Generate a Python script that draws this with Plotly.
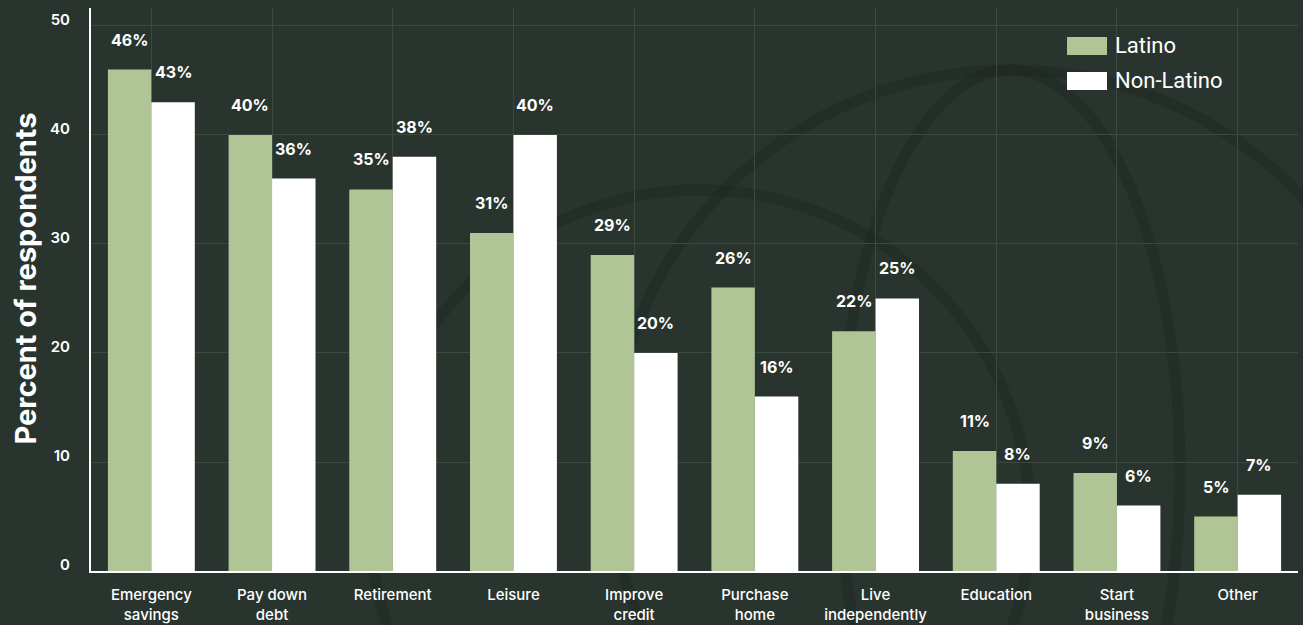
import plotly.graph_objects as go

# Reasons for saving, by respondent group (percent)
categories = [
    "Emergency<br>savings", "Pay down<br>debt", "Retirement", "Leisure",
    "Improve<br>credit", "Purchase<br>home", "Live<br>independently",
    "Education", "Start<br>business", "Other",
]
latino = [46, 40, 35, 31, 29, 26, 22, 11, 9, 5]
non_latino = [43, 36, 38, 40, 20, 16, 25, 8, 6, 7]
series_names = ["Latino", "Non-Latino"]
y_ticks = [0, 10, 20, 30, 40, 50]

BG = "#29342e"
GREEN = "#afc596"
WHITE = "#ffffff"
GRID = "#3c4a3d"
FONT = "Inter, Roboto, sans-serif"

W, H = 1303, 625
L, R, T, B = 91, 5, 8, 54
plot_w = W - L - R
plot_h = H - T - B


def px_to_paper_x(px):
    return (px - L) / plot_w


def px_to_paper_y(py):
    return (H - B - py) / plot_h


fig = go.Figure()
fig.add_trace(go.Bar(name=series_names[0], x=categories, y=latino,
                     marker=dict(color=GREEN, line=dict(width=0))))
fig.add_trace(go.Bar(name=series_names[1], x=categories, y=non_latino,
                     marker=dict(color=WHITE, line=dict(width=0))))

bargap = 0.28
bar_px = plot_w / len(categories) * (1 - bargap) / 2

annotations = []
for vals, shift in ((latino, -bar_px / 2), (non_latino, bar_px / 2)):
    for cat, v in zip(categories, vals):
        annotations.append(dict(
            x=cat, y=v, xref="x", yref="y", text=f"{v}%", showarrow=False,
            xshift=shift, yshift=30, yanchor="middle", xanchor="center",
            font=dict(family=FONT, size=16, color=WHITE, weight="bold"),
        ))

# Y axis title
annotations.append(dict(
    x=0, y=0.5, xref="paper", yref="paper", text="Percent of respondents",
    textangle=-90, showarrow=False, xanchor="center", yanchor="middle",
    xshift=-66, yshift=11,
    font=dict(family=FONT, size=29, color=WHITE, weight="bold"),
))

# Legend drawn as swatches with labels
shapes = []
legend_rows = [(series_names[0], GREEN, 37, 55), (series_names[1], WHITE, 72, 90)]
for name, color, y0, y1 in legend_rows:
    shapes.append(dict(type="rect", xref="paper", yref="paper",
                       x0=px_to_paper_x(1067), x1=px_to_paper_x(1107),
                       y0=px_to_paper_y(y1), y1=px_to_paper_y(y0),
                       fillcolor=color, line=dict(width=0), layer="above"))
    annotations.append(dict(
        x=px_to_paper_x(1113), y=px_to_paper_y((y0 + y1) / 2),
        xref="paper", yref="paper", text=name, showarrow=False,
        xanchor="left", yanchor="middle",
        font=dict(family="Roboto, sans-serif", size=22, color=WHITE),
    ))

# Faint globe watermark behind the chart
mark = "rgba(12,20,15,0.16)"
for cx, cy, rx, ry in [(1010, 470, 400, 400), (1010, 470, 170, 400),
                       (700, 520, 330, 330)]:
    shapes.append(dict(type="circle", xref="paper", yref="paper",
                       x0=px_to_paper_x(cx - rx), x1=px_to_paper_x(cx + rx),
                       y0=px_to_paper_y(cy + ry), y1=px_to_paper_y(cy - ry),
                       line=dict(color=mark, width=11), layer="below"))

fig.update_layout(
    width=W, height=H,
    margin=dict(l=L, r=R, t=T, b=B, pad=0),
    paper_bgcolor=BG, plot_bgcolor="rgba(0,0,0,0)",
    barmode="group", bargap=bargap, bargroupgap=0,
    showlegend=False,
    annotations=annotations, shapes=shapes,
    font=dict(family=FONT, color=WHITE),
)
fig.update_xaxes(
    automargin=False,
    showline=True, linecolor=WHITE, linewidth=2,
    showgrid=True, gridcolor=GRID, gridwidth=1,
    ticks="", ticklabelstandoff=9,
    tickfont=dict(family=FONT, size=15, color=WHITE, weight=500),
)
fig.update_yaxes(
    automargin=False,
    range=[0, 51.65], tickvals=y_ticks,
    showline=True, linecolor=WHITE, linewidth=2,
    showgrid=True, gridcolor=GRID, gridwidth=1, zeroline=False,
    ticks="", ticklabelstandoff=16, ticklabelshift=-6,
    tickfont=dict(family=FONT, size=15, color=WHITE, weight=600),
)

fig.write_html("out.html")
